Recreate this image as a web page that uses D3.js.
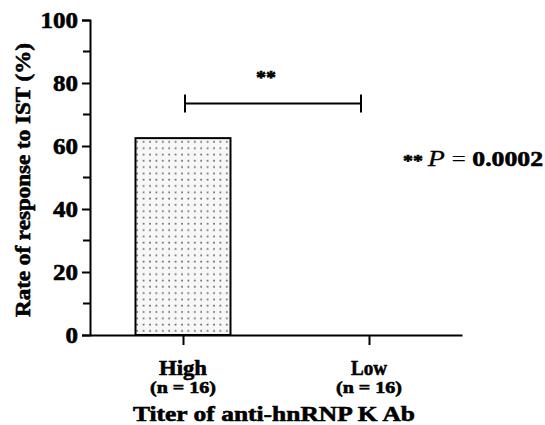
<!DOCTYPE html>
<html>
<head>
<meta charset="utf-8">
<script src="https://cdn.jsdelivr.net/npm/d3@7"></script>
<style>
  body { margin: 0; background: #fff; }
  text { font-family: "Liberation Serif", "Times New Roman", serif; font-weight: bold; fill: #000; stroke: #000; stroke-width: 0.6px; }
</style>
</head>
<body>
<svg id="chart" width="545" height="425"></svg>
<script>
// Response rate to IST by anti-hnRNP K Ab titer

var categories = ["High", "Low"];
var groupSizes = ["(n = 16)", "(n = 16)"];
var responseRates = [62.5, 0];
var yTicks = [0, 20, 40, 60, 80, 100];
var yMinorTicks = [10, 30, 50, 70, 90];
var sigLabel = "**";
var pValue = "0.0002";

var svg = d3.select("#chart");

var x = d3.scalePoint()
        .domain(categories)
        .range([90, 462])
        .padding(0.5);

var y = d3.scaleLinear()
        .domain([0, 100])
        .range([335, 20]);

// stretch text horizontally like the original export
function fit(sel, len) {
    sel.attr("textLength", len).attr("lengthAdjust", "spacingAndGlyphs");
}

// dot pattern for the bar
var defs = svg.append("defs");
var pat = defs.append("pattern")
        .attr("id", "dots")
        .attr("patternUnits", "userSpaceOnUse")
        .attr("width", 6.4)
        .attr("height", 6.3);
pat.append("rect").attr("width", 6.4).attr("height", 6.3).attr("fill", "#f7f7f7");
pat.append("rect").attr("x", 2).attr("y", 2.5).attr("width", 1.6).attr("height", 1.6).attr("fill", "#5a5a5a");

var barWidth = 95;

svg.selectAll("rect.bar")
        .data(responseRates)
        .enter().append("rect")
        .attr("class", "bar")
        .attr("x", (d, i) => x(categories[i]) - barWidth / 2)
        .attr("y", d => y(d))
        .attr("width", barWidth)
        .attr("height", d => y(0) - y(d))
        .attr("fill", "url(#dots)")
        .attr("stroke", d => d > 0 ? "#000" : "none")
        .attr("stroke-width", 2);

// y axis
var yAxis = svg.append("g")
        .attr("transform", "translate(90,0)")
        .call(d3.axisLeft(y).tickValues(yTicks).tickSize(8).tickPadding(4));
yAxis.select(".domain").attr("stroke-width", 2);
yAxis.selectAll(".tick line").attr("stroke-width", 2);
yAxis.selectAll(".tick text")
        .style("font-size", "23px")
        .attr("dy", "0.34em")
        .each(function (d) { fit(d3.select(this), String(d).length * 12.5); });

yAxis.selectAll(".minor")
        .data(yMinorTicks)
        .enter().append("line")
        .attr("class", "minor")
        .attr("x1", -7).attr("x2", 0)
        .attr("y1", d => y(d)).attr("y2", d => y(d))
        .attr("stroke", "#000").attr("stroke-width", 2);

// x axis
var xAxis = svg.append("g")
        .attr("transform", "translate(0,335)")
        .call(d3.axisBottom(x).tickSize(10).tickSizeOuter(0).tickFormat(""));
xAxis.select(".domain").attr("stroke-width", 2);
xAxis.selectAll(".tick line").attr("stroke-width", 2);

svg.selectAll("text.cat")
        .data(categories)
        .enter().append("text")
        .attr("class", "cat")
        .attr("x", d => x(d))
        .attr("y", 375)
        .attr("text-anchor", "middle")
        .style("font-size", "22px")
        .each(function (d) { fit(d3.select(this), d.length * 12); })
        .text(d => d);

svg.selectAll("text.n")
        .data(groupSizes)
        .enter().append("text")
        .attr("class", "n")
        .attr("x", (d, i) => x(categories[i]))
        .attr("y", 393)
        .attr("text-anchor", "middle")
        .style("font-size", "17px")
        .call(fit, 66)
        .text(d => d);

svg.append("text")
        .attr("x", 274)
        .attr("y", 421)
        .attr("text-anchor", "middle")
        .style("font-size", "22px")
        .call(fit, 282)
        .text("Titer of anti-hnRNP K Ab");

svg.append("text")
        .attr("transform", "translate(30,180) rotate(-90)")
        .attr("text-anchor", "middle")
        .style("font-size", "22px")
        .call(fit, 274)
        .text("Rate of response to IST (%)");

// significance bracket
var bracketY = y(73.5);
var br = svg.append("g").attr("stroke", "#000").attr("stroke-width", 2);
br.append("line")
        .attr("x1", x("High") + 2).attr("x2", x("Low") - 8)
        .attr("y1", bracketY).attr("y2", bracketY);
[x("High") + 2, x("Low") - 8].forEach(function (px) {
    br.append("line")
            .attr("x1", px).attr("x2", px)
            .attr("y1", bracketY - 9).attr("y2", bracketY + 9);
});

svg.append("text")
        .attr("x", (x("High") + x("Low")) / 2 - 10)
        .attr("y", 84)
        .attr("text-anchor", "middle")
        .style("font-size", "18px")
        .call(fit, 20)
        .text(sigLabel);

var pText = svg.append("text")
        .attr("x", 403)
        .attr("y", 166)
        .style("font-size", "22px")
        .call(fit, 140);
pText.append("tspan").style("font-size", "17px").text(sigLabel + " ");
pText.append("tspan").style("font-style", "italic").style("font-weight", "normal")
        .style("stroke-width", "0.3px").style("font-size", "24px").text("P");
pText.append("tspan").style("font-weight", "normal").style("stroke", "none").text(" = ");
pText.append("tspan").text(pValue);
</script>
</body>
</html>
